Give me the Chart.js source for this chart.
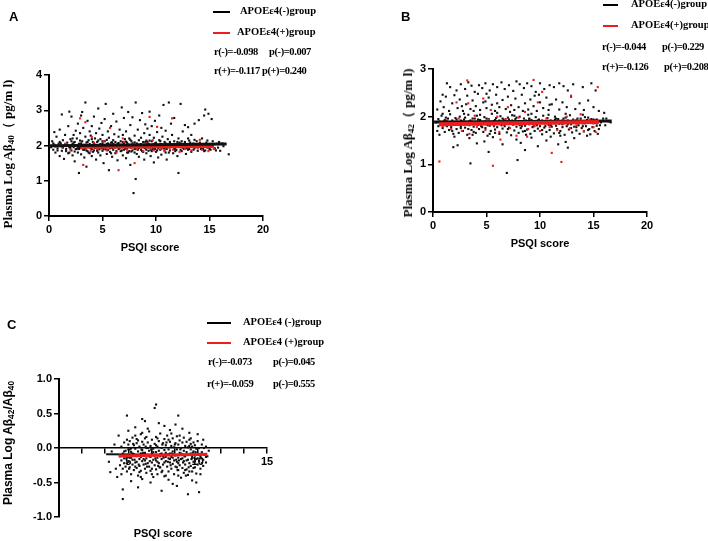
<!DOCTYPE html>
<html>
<head>
<meta charset="utf-8">
<script src="https://cdn.jsdelivr.net/npm/chart.js@4.4.1/dist/chart.umd.min.js"></script>
<style>
  body { margin: 0; background: #fff; }
  #fig { position: relative; width: 708px; height: 541px; overflow: hidden; background: #fff; }
  .pane { position: absolute; }
  .t { position: absolute; white-space: nowrap; line-height: 14px; color: #000; }
  .leg { font: bold 10.5px "Liberation Serif", "Times New Roman", serif; }
  .stat { font: bold 10.5px "Liberation Serif", "Times New Roman", serif; letter-spacing: -0.4px; }
  .tag { font: bold 13px "Liberation Sans", Arial, sans-serif; }
  .xt { font: bold 11px "Liberation Sans", Arial, sans-serif; transform: translateX(-50%); }
  .yt { transform: translate(-50%, -50%) rotate(-90deg); line-height: normal; }
  .serif { font: bold 13px "Liberation Serif", "Times New Roman", serif; }
  .sans { font: bold 12px "Liberation Sans", Arial, sans-serif; }
  .ln { position: absolute; height: 2px; }
  sub { font-size: 70%; vertical-align: -2px; line-height: 0; }
</style>
</head>
<body>
<div id="fig">
  <div class="pane" style="left:0;top:0"><canvas id="chartA" width="290" height="260"></canvas></div>
  <div class="pane" style="left:384px;top:0"><canvas id="chartB" width="290" height="260"></canvas></div>
  <div class="pane" style="left:0;top:280px"><canvas id="chartC" width="290" height="260"></canvas></div>

  <!-- panel A -->
  <div class="t tag" style="left:9px;top:9px">A</div>
  <div class="ln" style="left:213px;top:11px;width:17px;background:#000"></div>
  <div class="t leg" style="left:240px;top:5px">APOEε4(-)group</div>
  <div class="ln" style="left:213px;top:32px;width:17px;background:#ee1c1c"></div>
  <div class="t leg" style="left:237px;top:26px">APOEε4(+)group</div>
  <div class="t stat" style="left:214px;top:46px">r(-)=-0.098</div>
  <div class="t stat" style="left:269px;top:46px">p(-)=0.007</div>
  <div class="t stat" style="left:214px;top:65px">r(+)=-0.117</div>
  <div class="t stat" style="left:262px;top:65px">p(+)=0.240</div>
  <div class="t xt" style="left:150px;top:241px">PSQI score</div>
  <div class="t yt serif" style="left:8px;top:154px">Plasma Log Aβ<sub>40</sub>（ pg/m l)</div>

  <!-- panel B -->
  <div class="t tag" style="left:401px;top:9px">B</div>
  <div class="ln" style="left:603px;top:4px;width:15px;background:#000"></div>
  <div class="t leg" style="left:631px;top:-2px">APOEε4(-)group</div>
  <div class="ln" style="left:603px;top:25px;width:15px;background:#ee1c1c"></div>
  <div class="t leg" style="left:631px;top:19px">APOEε4(+)group</div>
  <div class="t stat" style="left:602px;top:41px">r(-)=-0.044</div>
  <div class="t stat" style="left:662px;top:41px">p(-)=0.229</div>
  <div class="t stat" style="left:602px;top:61px">r(+)=-0.126</div>
  <div class="t stat" style="left:664px;top:61px">p(+)=0.208</div>
  <div class="t xt" style="left:540px;top:237px">PSQI score</div>
  <div class="t yt serif" style="left:408px;top:143px">Plasma Log Aβ<sub>42</sub>（ pg/m l)</div>

  <!-- panel C -->
  <div class="t tag" style="left:7px;top:317px">C</div>
  <div class="ln" style="left:207px;top:322px;width:24px;background:#000"></div>
  <div class="t leg" style="left:243px;top:316px">APOEε4 (-)group</div>
  <div class="ln" style="left:207px;top:342px;width:24px;background:#ee1c1c"></div>
  <div class="t leg" style="left:243px;top:336px">APOEε4 (+)group</div>
  <div class="t stat" style="left:208px;top:356px">r(-)=-0.073</div>
  <div class="t stat" style="left:273px;top:356px">p(-)=0.045</div>
  <div class="t stat" style="left:207px;top:378px">r(+)=-0.059</div>
  <div class="t stat" style="left:273px;top:378px">p(-)=0.555</div>
  <div class="t xt" style="left:163px;top:527px">PSQI score</div>
  <div class="t yt sans" style="left:8px;top:443px">Plasma Log Aβ<sub>42</sub>/Aβ<sub>40</sub></div>
</div>

<script>
// ---- panel A: PSQI score vs log Abeta40 ----
const aNegPts = [
  [0.2,1.95],[0.3,2.12],[0.4,1.88],[0.5,2.38],[0.5,2.02],[0.6,1.80],[0.7,2.25],[0.8,1.92],[0.9,2.05],[1.0,1.70],[1.0,2.45],[1.1,1.98],[1.2,2.88],[1.2,1.85],[1.3,2.15],[1.4,1.62],[1.5,2.02],[1.5,2.30],[1.6,1.90],[1.7,2.08],[1.8,1.78],[1.8,2.55],[1.9,2.96],[1.9,1.95],[2.0,2.18],
  [2.1,1.86],[2.1,2.82],[2.2,2.04],[2.2,1.72],[2.3,2.30],[2.3,1.95],[2.4,2.10],[2.4,1.55],[2.5,2.00],[2.5,2.42],[2.6,1.90],[2.6,2.20],[2.7,1.80],[2.7,2.62],[2.8,1.22],[2.8,2.05],[2.9,1.93],[2.9,2.35],[3.0,2.85],[3.0,1.98],[3.0,1.75],[3.1,2.12],[3.1,2.95],[3.2,1.88],[3.2,2.50],[3.3,2.02],[3.3,1.66],[3.4,3.22],[3.4,2.25],[3.4,1.92],[3.5,2.08],[3.5,1.40],[3.6,1.84],[3.6,2.70],[3.7,2.15],[3.7,1.96],[3.8,2.40],[3.8,1.78],[3.9,2.00],[3.9,2.28],[4.0,1.90],[4.0,2.55],[4.0,1.70],[4.1,2.10],[4.1,1.97],
  [4.2,2.82],[4.2,1.86],[4.3,2.20],[4.3,2.02],[4.4,1.60],[4.4,2.35],[4.5,1.94],[4.5,2.10],[4.6,3.05],[4.6,1.80],[4.7,2.48],[4.7,2.00],[4.8,1.72],[4.8,2.18],[4.9,1.92],[4.9,2.64],[5.0,2.06],[5.0,1.85],[5.0,2.30],[5.1,1.98],[5.1,1.50],[5.2,2.12],[5.2,2.75],[5.3,1.89],[5.3,3.18],[5.4,2.04],[5.4,1.76],[5.5,2.40],[5.5,1.95],[5.6,1.30],[5.6,2.22],[5.7,2.00],[5.7,1.82],[5.8,2.55],[5.8,2.08],[5.9,1.93],[5.9,1.68],[6.0,2.15],[6.0,2.90],[6.0,1.88],[6.1,2.02],[6.1,2.32],[6.2,1.78],[6.2,2.10],[6.3,1.96],[6.3,2.68],[6.4,1.58],[6.4,2.05],[6.5,2.25],[6.5,1.90],
  [6.6,2.00],[6.6,2.45],[6.7,1.84],[6.7,2.12],[6.8,1.95],[6.8,3.08],[6.9,2.30],[6.9,1.72],[7.0,2.05],[7.0,1.88],[7.0,2.78],[7.1,2.18],[7.1,1.98],[7.2,1.64],[7.2,2.40],[7.3,1.92],[7.3,2.08],[7.4,2.95],[7.4,1.80],[7.5,2.20],[7.5,2.00],[7.6,1.45],[7.6,2.58],[7.7,1.94],[7.7,2.12],[7.8,2.80],[7.8,1.86],[7.9,2.02],[7.9,0.65],[8.0,2.28],[8.0,1.90],[8.1,1.05],[8.1,3.22],[8.2,2.06],[8.2,1.76],[8.3,2.45],[8.3,1.97],[8.4,2.15],[8.4,1.68],[8.5,2.00],[8.5,2.72],[8.6,1.88],[8.6,2.22],[8.7,1.95],[8.7,2.92],[8.8,1.82],[8.8,2.10],[8.9,2.35],[8.9,1.60],[9.0,2.02],[9.0,2.60],[9.0,1.92],[9.1,2.14],[9.1,1.78],[9.2,2.48],
  [9.2,1.96],[9.3,2.05],[9.3,1.85],[9.4,2.30],[9.4,2.96],[9.5,1.98],[9.5,1.70],[9.6,2.12],[9.6,2.55],[9.7,1.90],[9.7,2.02],[9.8,1.52],[9.8,2.22],[9.9,1.94],[9.9,2.70],[10.0,2.08],[10.0,1.82],[10.1,2.38],[10.1,1.96],[10.2,2.00],[10.2,1.66],[10.3,2.15],[10.3,2.85],[10.4,1.88],[10.4,2.05],[10.5,2.50],[10.5,1.74],[10.6,1.98],[10.6,2.25],[10.7,3.15],[10.7,1.92],[10.8,2.10],[10.9,1.80],[10.9,2.42],[11.0,2.02],[11.0,1.60],[11.1,2.18],[11.2,1.95],[11.2,3.22],[11.3,2.06],[11.3,1.86],[11.4,2.62],[11.5,1.99],[11.5,2.30],[11.6,1.78],[11.7,2.12],[11.7,2.78],[11.8,1.92],[11.9,2.04],[12.0,1.70],
  [12.1,1.22],[12.1,2.20],[12.2,1.96],[12.3,3.18],[12.3,2.05],[12.4,1.84],[12.5,2.40],[12.5,2.00],[12.6,1.90],[12.7,2.58],[12.7,2.10],[12.8,1.76],[12.9,1.98],[13.0,2.52],[13.0,1.88],[13.1,2.14],[13.2,1.96],[13.3,2.30],[13.3,1.82],[13.5,2.06],[13.6,2.62],[13.6,1.92],[13.8,2.12],[13.9,1.85],[14.0,2.72],[14.0,2.00],[14.2,1.90],[14.3,2.20],[14.4,1.96],[14.5,2.85],[14.6,3.02],[14.6,1.86],[14.7,2.08],[14.8,1.94],[14.9,2.90],[15.0,2.02],[15.1,1.88],[15.2,2.75],[15.3,2.12],[15.5,1.92],[15.7,2.05],[16.0,1.85],[16.3,1.98],[16.8,1.75],[15.9,2.10],
  [0.6,1.97],[1.1,2.06],[1.6,1.84],[2.0,1.93],[2.3,2.08],[2.6,1.98],[2.9,2.14],[3.2,1.96],[3.5,1.86],[3.8,2.04],[4.1,1.82],[4.4,1.99],[4.7,1.89],[5.0,2.12],[5.3,1.95],[5.6,2.03],[5.9,2.09],[6.2,1.94],[6.5,2.07],[6.8,1.86],[7.1,1.91],[7.4,2.03],[7.7,1.83],[8.0,2.09],[8.3,1.88],[8.6,2.04],[8.9,1.94],[9.2,2.10],[9.5,1.88],[9.8,2.04],[10.1,1.86],[10.4,2.13],[10.7,2.00],[11.0,1.90],[11.3,2.10],[11.6,1.96],[11.9,1.87],[12.2,2.08],[12.5,1.94],[12.8,2.02],[13.1,1.90],[13.4,2.04],[13.7,1.98],[14.1,2.08],[14.4,1.90],[14.8,2.02],[15.2,1.96],[15.6,1.86],[3.0,2.06],[4.9,2.01],[6.0,1.99],[7.2,2.11],[8.4,1.93],[9.6,1.97],[10.8,1.93],[12.0,2.00],[5.5,1.87],[6.9,2.02],[7.9,1.96],[8.8,1.99],[4.3,1.93],[2.5,1.90],
  [0.4,2.06],[0.8,1.86],[1.3,1.94],[1.7,2.00],[2.1,2.12],[2.4,1.83],[2.7,1.96],[3.1,2.02],[3.3,1.88],[3.6,2.10],[3.9,1.92],[4.2,2.06],[4.5,1.85],[4.8,2.04],[5.1,1.90],[5.4,2.16],[5.7,1.92],[6.0,2.04],[6.3,1.84],[6.6,1.92],[6.9,2.10],[7.2,1.96],[7.5,1.84],[7.8,2.06],[8.1,1.90],[8.4,2.02],[8.7,1.84],[9.0,2.10],[9.3,1.94],[9.6,1.84],[9.9,2.06],[10.2,1.92],[10.5,2.04],[10.8,1.86],[11.1,1.96],[11.4,2.04],[11.7,1.90],[12.0,2.10],[12.3,1.88],[12.6,2.04],[12.9,1.92],[13.2,2.08],[13.5,1.88],[13.8,1.96],[14.2,2.04],[14.6,1.96],[15.0,1.90],[15.4,2.04],[15.8,1.94],[16.2,2.06],
  [1.0,2.10],[1.9,1.80],[2.8,1.90],[3.7,1.80],[4.6,2.14],[5.5,2.06],[6.4,1.98],[7.3,1.80],[8.2,1.98],[9.1,1.88],[10.0,1.98],[10.9,2.06],[11.8,1.84],[12.7,1.98],[13.6,2.16],[14.5,1.84],[15.3,1.98],[2.2,2.20],[4.0,2.18],[5.8,1.78],[7.6,2.16],[9.4,2.14],[11.2,1.80],[13.0,2.20],[14.8,2.14],[3.4,2.00],[6.7,2.02],[8.0,1.80],[9.9,1.90],[12.4,2.12]
];
const aPosPts = [
  [1.2,1.95],[1.5,2.05],[2.0,1.88],[2.4,2.00],[2.9,2.77],[3.0,1.92],[3.2,1.45],[3.4,2.66],[3.6,1.98],[3.9,1.85],[4.2,2.08],[4.5,1.90],[4.8,1.96],[5.1,2.12],[5.4,1.86],[5.7,2.50],[5.8,1.95],[6.1,2.02],[6.3,1.80],[6.5,1.30],[6.7,1.97],[7.0,2.10],[7.3,1.88],[7.6,1.94],[7.9,2.04],[8.0,1.50],[8.2,1.90],[8.5,1.98],[8.8,1.84],[9.1,2.06],[9.4,2.81],[9.5,1.92],[9.8,1.86],[10.1,2.53],[10.2,1.99],[10.5,1.90],[10.8,1.84],[11.0,2.02],[11.3,1.94],[11.5,2.77],[11.6,1.88],[11.9,1.96],[12.2,1.82],[12.4,2.04],[12.7,1.90],[13.0,1.95],[13.3,1.86],[13.6,2.00],[13.9,1.92],[14.1,2.16],[14.3,1.88],[14.6,1.96],[14.9,1.84],[15.1,2.02],[15.4,1.90],[9.7,2.15],[6.9,2.20],[4.0,2.24]
];
const aNegFit = [[0, 1.99], [16.6, 2.04]];
const aPosFit = [[3.0, 1.95], [15.4, 1.97]];
const aXTicks = [0, 20, 5];   // min, max, step
const aYTicks = [0, 4, 1];

// ---- panel B: PSQI score vs log Abeta42 ----
const bNegPts = [
  [1.3,2.70],[1.6,2.62],[2.2,2.55],[2.6,2.68],[3.0,2.58],[3.3,2.72],[3.6,2.65],[3.9,2.52],[4.3,2.66],[4.6,2.60],[4.9,2.70],[5.3,2.55],[5.6,2.68],[6.0,2.62],[6.4,2.72],[6.7,2.58],[7.1,2.66],[7.5,2.54],[7.8,2.74],[8.1,2.68],[8.5,2.60],[8.8,2.70],[9.2,2.64],[9.6,2.52],[10.0,2.70],[10.4,2.58],[10.9,2.66],[11.3,2.62],[11.8,2.70],[12.2,2.64],[12.6,2.55],[13.1,2.68],[14.0,2.62],[14.8,2.70],[15.2,2.55],[0.9,2.46],[5.0,2.48],[9.9,2.46],
  [0.4,2.15],[0.7,2.32],[1.0,2.20],[1.2,2.42],[1.5,2.12],[1.8,2.28],[2.0,2.45],[2.3,2.18],[2.5,2.36],[2.8,2.12],[3.1,2.26],[3.2,2.44],[3.5,2.16],[3.7,2.34],[4.0,2.22],[4.2,2.48],[4.4,2.14],[4.7,2.30],[5.0,2.18],[5.2,2.40],[5.5,2.25],[5.8,2.12],[5.9,2.46],[6.2,2.20],[6.5,2.35],[6.8,2.16],[7.0,2.42],[7.3,2.24],[7.6,2.14],[7.7,2.38],[8.0,2.20],[8.3,2.46],[8.6,2.28],[8.9,2.15],[9.1,2.36],[9.4,2.22],[9.7,2.12],[10.0,2.30],[10.3,2.18],[10.6,2.40],[10.8,2.14],[11.1,2.26],[11.5,2.36],[11.8,2.15],[12.1,2.30],[12.5,2.20],[12.9,2.42],[13.3,2.16],[13.7,2.28],[14.1,2.14],[14.5,2.34],[15.0,2.20],[15.5,2.12],[16.0,2.08],[6.0,2.28],[7.2,2.10],[8.4,2.12],[9.5,2.44],[3.8,2.12],[2.7,2.22],[4.9,2.32],[10.9,2.25],
  [0.3,1.88],[0.4,1.70],[0.5,1.95],[0.6,1.62],[0.7,1.84],[0.8,2.02],[0.9,1.76],[1.0,1.90],[1.1,1.68],[1.2,1.98],[1.3,1.80],[1.4,1.86],[1.5,1.72],[1.6,2.05],[1.7,1.78],[1.8,1.92],[1.9,1.64],[2.0,1.84],[2.1,1.97],[2.2,1.74],[2.3,1.88],[2.4,1.66],[2.5,2.00],[2.6,1.80],[2.7,1.90],[2.8,1.70],[2.9,1.94],[3.0,1.77],[3.1,1.86],[3.2,1.62],[3.3,2.04],[3.4,1.82],[3.5,1.92],[3.6,1.72],[3.7,1.96],[3.8,1.79],[3.9,1.87],[4.0,1.66],[4.1,2.02],[4.2,1.83],[4.3,1.74],[4.4,1.93],[4.5,1.80],[4.6,1.89],[4.7,1.68],[4.8,1.99],[4.9,1.76],[5.0,1.86],[5.1,1.60],[5.2,1.95],[5.3,1.81],[5.4,1.70],[5.5,2.06],[5.6,1.84],[5.7,1.91],[5.8,1.73],[5.9,1.97],[6.0,1.78],[6.1,1.88],[6.2,1.64],[6.3,2.01],[6.4,1.82],[6.5,1.75],[6.6,1.94],[6.7,1.80],[6.8,1.90],[6.9,1.67],[7.0,1.98],[7.1,1.77],[7.2,1.86],[7.3,1.61],[7.4,2.03],[7.5,1.83],[7.6,1.71],[7.7,1.95],[7.8,1.79],[7.9,1.89],[8.0,1.66],[8.1,2.00],[8.2,1.76],[8.3,1.87],[8.4,1.69],[8.5,1.96],[8.6,1.81],[8.7,1.92],[8.8,1.73],[8.9,2.04],[9.0,1.84],[9.1,1.64],[9.2,1.93],[9.3,1.78],[9.4,1.88],[9.5,1.70],[9.6,1.99],[9.7,1.82],[9.8,1.75],[9.9,1.94],[10.0,1.80],[10.1,1.90],[10.2,1.63],[10.3,2.02],[10.4,1.77],[10.5,1.86],[10.6,1.68],[10.7,1.97],[10.8,1.83],[10.9,1.72],[11.0,1.92],[11.1,1.79],[11.2,1.88],[11.3,1.65],[11.4,2.00],[11.5,1.81],[11.6,1.74],[11.7,1.95],[11.8,1.85],[11.9,1.70],[12.0,1.90],[12.1,1.78],[12.2,1.87],[12.3,1.62],[12.4,1.98],[12.5,1.80],[12.6,1.92],[12.7,1.73],[12.8,2.03],[12.9,1.84],[13.0,1.67],[13.1,1.94],[13.2,1.79],[13.3,1.89],[13.4,1.71],[13.5,1.96],[13.6,1.82],[13.7,1.64],[13.8,1.91],[13.9,1.76],[14.0,1.86],[14.1,1.69],[14.2,1.99],[14.3,1.80],[14.4,1.93],[14.5,1.72],[14.6,1.88],[14.7,1.63],[14.8,1.95],[14.9,1.78],[15.0,1.86],[15.1,1.70],[15.2,1.92],[15.3,1.81],[15.5,1.74],[15.7,1.88],[15.9,1.96],[16.1,1.82],[16.4,1.90],[15.4,1.64],[2.0,1.58],[3.4,1.55],[5.6,1.57],[7.8,1.52],[9.2,1.56],[11.0,1.58],[13.2,1.55],[4.8,1.48],[8.2,1.45],[10.6,1.50],[6.5,1.42],[12.4,1.47],[14.4,1.60],
  [0.5,1.80],[1.1,1.93],[1.9,1.86],[2.6,1.92],[3.2,1.84],[3.9,1.96],[4.5,1.88],[5.1,1.82],[5.8,1.93],[6.4,1.86],[7.1,1.94],[7.7,1.85],[8.3,1.80],[9.0,1.94],[9.6,1.86],[10.2,1.92],[10.9,1.86],[11.5,1.96],[12.1,1.84],[12.8,1.88],[13.4,1.92],[14.0,1.80],[14.7,1.90],[15.3,1.94],[16.6,1.88],
  [0.6,1.90],[1.0,1.82],[1.4,1.96],[1.8,1.70],[2.2,1.94],[2.6,1.76],[3.0,1.98],[3.4,1.90],[3.8,1.68],[4.2,1.94],[4.6,1.78],[5.0,1.96],[5.4,1.88],[5.8,1.66],[6.2,1.92],[6.6,1.84],[7.0,1.74],[7.4,1.92],[7.8,1.98],[8.2,1.88],[8.6,1.70],[9.0,1.96],[9.4,1.80],[9.8,1.92],[10.2,1.72],[10.6,1.90],[11.0,1.82],[11.4,1.94],[11.8,1.66],[12.2,1.96],[12.6,1.84],[13.0,1.90],[13.4,1.78],[13.8,1.96],[14.2,1.86],[14.6,1.74],[15.0,1.94],[15.6,1.82],[16.2,1.96],[0.9,2.06],[1.7,1.88],[2.5,1.84],[3.3,1.74],[4.1,1.86],[4.9,1.90],[5.7,1.80],[6.5,1.96],[7.3,1.86],[8.1,1.82],[8.9,1.90],[9.7,1.86],[10.5,1.80],[11.3,1.86],[12.1,1.92],[12.9,1.76],[13.7,1.88],[14.5,1.98],[15.3,1.86],[2.9,2.06],[4.4,2.04],[6.0,2.08],[7.6,2.02],[9.2,2.06],[10.8,2.04],[12.4,2.06],[14.0,2.04],[5.3,1.64],[8.7,1.62],[11.9,1.60],[3.7,1.62],
  [1.9,1.36],[5.2,1.26],[7.9,1.09],[8.6,1.30],[3.5,1.02],[6.9,0.82],[2.3,1.40],[9.8,1.38],[12.6,1.35],[4.1,1.44],[11.7,1.42]
];
const bPosPts = [
  [0.6,1.06],[0.9,1.80],[1.3,1.92],[1.7,1.74],[2.0,1.88],[2.4,1.96],[2.7,1.70],[3.0,1.85],[3.2,2.76],[3.4,1.64],[3.6,1.90],[3.9,2.02],[4.1,1.78],[4.4,1.88],[4.7,2.38],[4.9,1.72],[5.2,1.94],[5.6,0.97],[5.7,1.82],[6.0,2.00],[6.2,1.68],[6.5,1.86],[6.8,1.95],[7.0,2.20],[7.2,1.76],[7.5,1.90],[7.8,1.60],[8.0,1.98],[8.3,1.84],[8.6,2.10],[8.9,1.74],[9.1,1.92],[9.4,2.77],[9.5,1.80],[9.8,2.30],[10.0,1.70],[10.3,1.88],[10.6,1.96],[10.9,1.78],[11.1,1.24],[11.3,1.90],[11.6,1.72],[12.0,1.05],[12.2,1.86],[12.5,2.00],[12.8,1.76],[13.1,1.92],[13.4,1.82],[13.8,2.05],[14.1,1.70],[14.4,1.88],[14.7,1.94],[15.0,1.78],[15.4,2.62],[15.2,1.68],[2.2,2.30],[5.4,2.14],[10.2,2.52],[6.3,1.52],[8.8,1.58],[3.3,2.28],[12.9,2.44]
];
const bNegFit = [[0.1, 1.89], [16.7, 1.91]];
const bPosFit = [[0.55, 1.84], [15.5, 1.89]];
const bXTicks = [0, 20, 5];
const bYTicks = [0, 3, 1];

// ---- panel C: PSQI score vs log Abeta42/Abeta40 ----
const cNegPts = [
  [4.4,-0.12],[4.4,-0.25],[4.5,0.02],[4.5,-0.18],[4.6,-0.08],[4.6,-0.30],[4.7,0.08],[4.7,-0.15],[4.7,-0.22],[4.8,-0.04],[4.8,-0.27],[4.9,0.12],[4.9,-0.10],[4.9,-0.34],[5.0,-0.02],[5.0,-0.20],[5.0,0.05],
  [5.1,-0.14],[5.1,-0.28],[5.1,0.10],[5.2,-0.06],[5.2,-0.38],[5.2,0.00],[5.3,0.15],[5.3,-0.17],[5.3,-0.24],[5.4,-0.09],[5.4,0.04],[5.4,-0.32],[5.5,-0.21],[5.5,-0.01],[5.5,0.18],[5.6,-0.12],[5.6,-0.29],[5.6,0.07],[5.7,-0.05],[5.7,-0.40],[5.7,0.11],[5.8,-0.16],[5.8,0.02],[5.8,-0.26],[5.9,-0.08],[5.9,0.20],[5.9,-0.33],
  [6.0,-0.19],[6.0,-0.03],[6.0,0.09],[6.0,-0.45],[6.1,-0.11],[6.1,-0.24],[6.1,0.05],[6.2,0.14],[6.2,-0.07],[6.2,-0.30],[6.3,-0.15],[6.3,0.00],[6.3,-0.36],[6.4,-0.22],[6.4,0.08],[6.4,-0.10],[6.5,0.24],[6.5,-0.04],[6.5,-0.27],[6.6,-0.13],[6.6,-0.33],[6.6,0.03],[6.7,-0.08],[6.7,0.12],[6.7,-0.21],[6.8,-0.17],[6.8,-0.01],[6.8,-0.42],[6.9,0.06],[6.9,-0.25],[6.9,-0.11],
  [7.0,-0.06],[7.0,0.16],[7.0,-0.31],[7.0,-0.18],[7.1,-0.14],[7.1,0.02],[7.1,-0.38],[7.2,-0.22],[7.2,0.10],[7.2,-0.04],[7.3,-0.09],[7.3,-0.28],[7.3,0.21],[7.4,0.00],[7.4,-0.16],[7.4,-0.35],[7.5,-0.12],[7.5,0.07],[7.5,-0.24],[7.6,-0.03],[7.6,-0.41],[7.6,0.13],[7.7,-0.19],[7.7,-0.07],[7.7,0.04],[7.8,-0.27],[7.8,0.18],[7.8,-0.10],[7.9,-0.15],[7.9,-0.02],[7.9,-0.34],
  [8.0,0.09],[8.0,-0.21],[8.0,-0.08],[8.0,0.26],[8.1,-0.13],[8.1,-0.30],[8.1,0.03],[8.2,-0.05],[8.2,0.14],[8.2,-0.23],[8.3,-0.18],[8.3,-0.38],[8.3,0.01],[8.4,0.07],[8.4,-0.11],[8.4,-0.27],[8.5,-0.02],[8.5,-0.20],[8.5,0.17],[8.6,-0.14],[8.6,-0.32],[8.6,0.05],[8.7,-0.07],[8.7,0.11],[8.7,-0.25],[8.8,-0.16],[8.8,-0.43],[8.8,0.00],[8.9,0.08],[8.9,-0.09],[8.9,-0.29],
  [9.0,-0.19],[9.0,-0.04],[9.0,0.15],[9.0,-0.36],[9.1,-0.12],[9.1,0.03],[9.1,-0.24],[9.2,-0.06],[9.2,-0.31],[9.2,0.09],[9.3,-0.17],[9.3,0.01],[9.3,-0.39],[9.4,-0.09],[9.4,0.12],[9.4,-0.22],[9.5,-0.26],[9.5,-0.02],[9.5,0.06],[9.6,-0.13],[9.6,-0.34],[9.6,0.02],[9.7,-0.05],[9.7,0.08],[9.7,-0.20],[9.8,-0.28],[9.8,-0.11],[9.8,0.04],[9.9,-0.16],[9.9,-0.01],[9.9,-0.37],
  [10.0,-0.08],[10.0,0.10],[10.0,-0.24],[10.1,-0.19],[10.1,0.00],[10.2,-0.12],[10.2,-0.30],[10.3,0.05],[10.3,-0.06],[10.4,-0.17],[10.4,-0.26],[10.5,-0.10],[10.6,0.02],[10.6,-0.21],[10.8,-0.04],
  [7.0,0.63],[6.9,0.58],[4.9,0.47],[8.6,0.47],[6.0,0.42],[6.2,0.39],[4.6,-0.74],[9.3,-0.67],[10.1,-0.64],[7.4,-0.62],[4.6,-0.60],[5.7,-0.57],[8.5,-0.55],[8.2,-0.52],[6.6,-0.50],[5.2,-0.48],[7.9,-0.46],[9.6,-0.47],[3.6,-0.20],[3.7,-0.35],[3.8,-0.05],[4.0,0.05],[4.1,-0.30],[4.3,0.18],[5.5,0.30],[7.6,0.32],[8.9,0.28],[9.4,0.22],[6.4,0.28],[5.0,0.25],[10.0,0.20],[10.4,0.12],[10.7,-0.12],[4.2,-0.42],[9.9,-0.50],[7.2,0.36],[8.4,0.34],
  [5.0,-0.12],[5.3,-0.08],[5.6,-0.20],[5.9,-0.13],[6.2,-0.18],[6.5,-0.12],[6.8,-0.06],[7.1,-0.20],[7.4,-0.08],[7.7,-0.13],[8.0,-0.16],[8.3,-0.09],[8.6,-0.22],[8.9,-0.15],[9.2,-0.18],[9.5,-0.08],[9.8,-0.19],[5.15,-0.02],[5.45,-0.17],[5.75,-0.24],[6.05,-0.07],[6.35,-0.27],[6.65,-0.02],[6.95,-0.15],[7.25,-0.28],[7.55,-0.14],[7.85,-0.20],[8.15,-0.08],[8.45,-0.17],[8.75,-0.02],[9.05,-0.12],[9.35,-0.28],[9.65,-0.07],[9.95,-0.10],[4.85,-0.15],[10.25,-0.15],[6.25,0.02],[7.45,0.05],[8.55,-0.32],[9.15,-0.40],
  [4.7,-0.05],[4.9,-0.22],[5.05,-0.30],[5.2,-0.14],[5.35,0.06],[5.5,-0.27],[5.65,-0.11],[5.8,-0.35],[5.95,-0.02],[6.1,-0.16],[6.25,-0.23],[6.4,0.00],[6.55,-0.19],[6.7,-0.30],[6.85,-0.10],[7.0,0.04],[7.15,-0.26],[7.3,-0.12],[7.45,-0.33],[7.6,-0.21],[7.75,0.08],[7.9,-0.09],[8.05,-0.25],[8.2,-0.14],[8.35,0.05],[8.5,-0.28],[8.65,-0.18],[8.8,-0.08],[8.95,-0.21],[9.1,-0.32],[9.25,-0.10],[9.4,0.03],[9.55,-0.16],[9.7,-0.29],[9.85,-0.06],[10.0,-0.15],[10.15,-0.10],[10.3,-0.22],[10.45,0.00],[10.6,-0.13],[5.6,0.13],[6.3,0.16],[7.1,0.14],[7.9,0.12],[8.7,0.18],[9.5,0.14],[5.9,-0.42],[6.7,-0.38],[7.7,-0.40],[8.6,-0.40],[9.4,-0.34],[10.2,-0.38],[4.5,-0.38],[6.0,0.22],[8.1,0.21]
];
const cNegFit = [[3.4, -0.09], [10.2, -0.10]];
const cPosFit = [[4.3, -0.116], [10.7, -0.09]];
const cXTicks = [0, 1.67, 3.33, 5, 6.67, 8.33, 10, 11.67, 13.33, 15];
const cXLabels = ["", "", "", "5", "", "", "10", "", "", "15"];
const cYTicks = [-1, 1, 0.5];

const BLACK = "#111111";
const RED = "#ee1c1c";
const tickFont = { family: "'Liberation Sans', Arial, sans-serif", size: 11, weight: "bold" };

const toXY = (pts) => pts.map((p) => ({ x: p[0], y: p[1] }));

const dots = (pts, color, order) => ({
    type: "scatter",
    data: toXY(pts),
    backgroundColor: color,
    borderWidth: 0,
    pointStyle: "rect",
    pointRadius: 1.5,
    order: order,
});

const fit = (pts, color, width, order) => ({
    type: "line",
    data: toXY(pts),
    borderColor: color,
    borderWidth: width,
    pointRadius: 0,
    fill: false,
    order: order,
});

const axis = (range, size, extra) => {
    const s = {
        type: "linear",
        min: range[0],
        max: range[1],
        grid: { display: true, drawOnChartArea: false, drawTicks: true, tickLength: 5, color: "#000", lineWidth: 1.5 },
        border: { display: true, color: "#000", width: 2 },
        ticks: { stepSize: range[2], color: "#000", font: tickFont, padding: 2, autoSkip: false, maxRotation: 0 },
        afterFit: (scale) => {
            if (scale.isHorizontal()) scale.height = size;
            else scale.width = size;
        },
    };
    return Object.assign(s, extra || {});
};

const makeChart = (id, datasets, padding, scales) =>
    new Chart(document.getElementById(id).getContext("2d"), {
        type: "scatter",
        data: { datasets: datasets },
        options: {
            responsive: false,
            animation: false,
            devicePixelRatio: 1,
            layout: { padding: padding },
            plugins: { legend: { display: false }, tooltip: { enabled: false } },
            scales: scales,
        },
    });

makeChart(
    "chartA",
    [fit(aNegFit, BLACK, 3, 0), fit(aPosFit, RED, 3, 1), dots(aPosPts, RED, 2), dots(aNegPts, BLACK, 3)],
    { left: 0, top: 75, right: 27, bottom: 22 },
    { x: axis(aXTicks, 22), y: axis(aYTicks, 49) }
);

makeChart(
    "chartB",
    [fit(bPosFit, RED, 4, 0), fit(bNegFit, BLACK, 3, 1), dots(bPosPts, RED, 2), dots(bNegPts, BLACK, 3)],
    { left: 0, top: 69, right: 27, bottom: 26 },
    { x: axis(bXTicks, 22), y: axis(bYTicks, 49) }
);

const cX = axis([0, 15, 5], 22, { position: { y: 0 } });
cX.border = { display: true, color: "#000", width: 1.5 };
cX.afterBuildTicks = (scale) => {
    scale.ticks = cXTicks.map((v) => ({ value: v }));
};
cX.ticks.callback = (value, index) => cXLabels[index];

const cY = axis(cYTicks, 59);
cY.ticks.callback = (value) => value.toFixed(1);

makeChart(
    "chartC",
    [fit(cPosFit, RED, 3, 0), fit(cNegFit, BLACK, 2, 1), dots(cNegPts, BLACK, 3)],
    { left: 0, top: 99, right: 23, bottom: 23 },
    { x: cX, y: cY }
);
</script>
</body>
</html>
